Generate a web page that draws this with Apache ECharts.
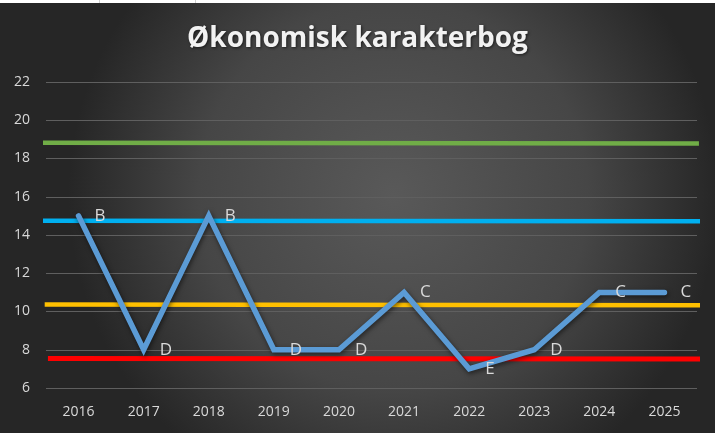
<!DOCTYPE html>
<html>
<head>
<meta charset="utf-8">
<script src="https://cdn.jsdelivr.net/npm/echarts@6/dist/echarts.min.js"></script>
<style>
html,body{margin:0;padding:0;background:#fff;}
#chart{width:715px;height:433px;}
</style>
</head>
<body>
<div id="chart"></div>
<script>
const years = ['2016','2017','2018','2019','2020','2021','2022','2023','2024','2025'];
const values = [15, 8, 15, 8, 8, 11, 7, 8, 11, 11];
const grades = ['B','D','B','D','D','C','E','D','C','C'];
const yTicks = [6, 8, 10, 12, 14, 16, 18, 20, 22];
const refGreen = [[-0.11, 18.82], [10.03, 18.78]];
const refBlue = [[-0.06, 14.74], [10.09, 14.72]];
const refYellow = [[-0.02, 10.37], [10.12, 10.33]];
const refRed = [[0.03, 7.54], [10.17, 7.52]];

const chart = echarts.init(document.getElementById('chart'), null, {renderer:'canvas'});
const refLine = (data, color, w) => ({
  type:'line', xAxisIndex:1, data:data, symbol:'none', clip:false, z:3,
  lineStyle:{color:color, width:w}, silent:true
});
chart.setOption({
  animation:false,
  backgroundColor:{
    type:'radial', x:0.55, y:0.45, r:0.75,
    colorStops:[{offset:0,color:'#595959'},{offset:0.6,color:'#464646'},{offset:1,color:'#262626'}]
  },
  graphic:[
    {type:'rect', shape:{x:0,y:0,width:715,height:3}, style:{fill:'#ffffff'}, z:100},
    {type:'rect', shape:{x:99,y:0,width:1,height:3}, style:{fill:'#d0d0d0'}, z:101},
    {type:'rect', shape:{x:195,y:0,width:1,height:3}, style:{fill:'#d0d0d0'}, z:101}
  ],
  title:{
    text:'Økonomisk karakterbog', left:'center', top:20,
    textStyle:{color:'#f2f2f2', fontFamily:'Open Sans', fontWeight:'bold', fontSize:28,
      textShadowColor:'rgba(0,0,0,0.6)', textShadowBlur:3, textShadowOffsetX:1, textShadowOffsetY:1}
  },
  grid:{left:46, right:18, top:82, bottom:45, containLabel:false},
  xAxis:[{
    type:'category', data:years, boundaryGap:true,
    axisLine:{show:false}, axisTick:{show:false},
    axisLabel:{color:'#d9d9d9', fontSize:14, fontFamily:'Open Sans', margin:17}
  },{
    type:'value', min:0, max:10, show:false
  }],
  yAxis:{
    type:'value', min:6, max:22, interval:2,
    axisLine:{show:false}, axisTick:{show:false},
    axisLabel:{color:'#d9d9d9', fontSize:14, fontFamily:'Open Sans', margin:16},
    splitLine:{lineStyle:{color:'#5f5f5f', width:1.2}}
  },
  series:[
    refLine(refGreen, '#70AD47', 4.5),
    refLine(refBlue, '#00B0F0', 4.5),
    refLine(refYellow, '#FFC000', 4.5),
    refLine(refRed, '#FF0000', 5),
    {
      type:'line', xAxisIndex:0, data:values, symbol:'circle', symbolSize:2, showSymbol:true, z:4,
      itemStyle:{color:'rgba(0,0,0,0)'},
      lineStyle:{color:'#5B9BD5', width:5.5, cap:'round', join:'miter',
        shadowColor:'rgba(0,0,0,0.55)', shadowBlur:5, shadowOffsetX:1, shadowOffsetY:2},
      label:{show:true, position:'right', distance:15,
        formatter:p=>grades[p.dataIndex],
        color:'#d9d9d9', fontSize:17, fontFamily:'Open Sans'}
    }
  ]
});
</script>
</body>
</html>
